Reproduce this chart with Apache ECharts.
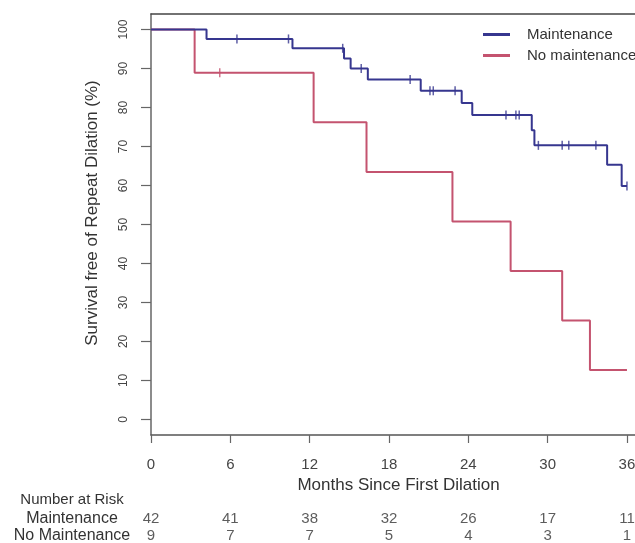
<!DOCTYPE html>
<html>
<head>
<meta charset="utf-8">
<script src="https://cdn.jsdelivr.net/npm/echarts@6/dist/echarts.min.js"></script>
<style>
html,body{margin:0;padding:0;background:#fff;}
#c{width:635px;height:543px;}
</style>
</head>
<body>
<div id="c"></div>
<script>
// ---- data ----
const xTicks = [0, 6, 12, 18, 24, 30, 36];
const yTicks = [0, 10, 20, 30, 40, 50, 60, 70, 80, 90, 100];

const maintTimes = [0, 4.2, 10.7, 14.6, 15.1, 16.4, 20.4, 23.5, 24.3, 28.8, 29.0, 34.5, 35.6, 36.0];
const maintSurv  = [100, 97.6, 95.2, 92.6, 90.0, 87.2, 84.3, 81.2, 78.1, 74.2, 70.3, 65.3, 59.9, 59.9];
const maintCensorTimes = [6.5, 10.4, 14.5, 15.9, 19.6, 21.1, 21.35, 23.0, 26.85, 27.6, 27.85, 29.3, 31.1, 31.6, 33.65, 36.0];
const maintCensorSurv  = [97.6, 97.6, 95.2, 90.0, 87.2, 84.3, 84.3, 84.3, 78.1, 78.1, 78.1, 70.3, 70.3, 70.3, 70.3, 59.9];

const noMaintTimes = [0, 3.3, 12.3, 16.3, 22.8, 27.2, 31.1, 33.2, 36.0];
const noMaintSurv  = [100, 88.9, 76.2, 63.5, 50.8, 38.1, 25.4, 12.7, 12.7];
const noMaintCensorTimes = [5.2];
const noMaintCensorSurv  = [88.9];

const riskTimes   = [0, 6, 12, 18, 24, 30, 36];
const riskMaint   = [42, 41, 38, 32, 26, 17, 11];
const riskNoMaint = [9, 7, 7, 5, 4, 3, 1];
const riskRows = ['Maintenance', 'No Maintenance'];

// ---- chart ----
const BLUE = '#36368f';
const RED = '#c4536f';
const FONT = "'Liberation Sans', Arial, sans-serif";
const XMAX = 37.44;

const zip = (a, b) => a.map((v, i) => [v, b[i]]);

const chart = echarts.init(document.getElementById('c'), null, {renderer: 'canvas'});
chart.setOption({
  animation: false,
  backgroundColor: '#fff',
  textStyle: {fontFamily: FONT},
  grid: [
    {left: 151, top: 14, width: 495, height: 421, show: false, outerBoundsMode: 'none', containLabel: false},
    {left: 151, top: 510, width: 495, height: 34, show: false, outerBoundsMode: 'none', containLabel: false}
  ],
  legend: {
    orient: 'vertical', left: 478, top: 22,
    itemWidth: 27, itemHeight: 3, itemGap: 6,
    textStyle: {fontSize: 15, color: '#333', fontFamily: FONT, lineHeight: 15, padding: [0, 0, 0, 12]},
    data: [{name: 'Maintenance', icon: 'rect'}, {name: 'No maintenance', icon: 'rect'}]
  },
  xAxis: [
    {
      type: 'value', gridIndex: 0, min: 0, max: XMAX,
      axisLine: {show: true, onZero: false, lineStyle: {color: '#555', width: 1.5}},
      axisTick: {show: true, inside: false, length: 8, customValues: xTicks, lineStyle: {color: '#666', width: 1.2}},
      axisLabel: {customValues: xTicks, margin: 22, fontSize: 15, color: '#444', fontFamily: FONT},
      splitLine: {show: false},
      name: 'Months Since First Dilation', nameLocation: 'middle', nameGap: 42,
      nameTextStyle: {fontSize: 17, color: '#333', fontFamily: FONT}
    },
    {type: 'value', gridIndex: 1, min: 0, max: XMAX, show: false},
    {
      type: 'value', gridIndex: 0, position: 'top', min: 0, max: XMAX,
      axisLine: {show: true, onZero: false, lineStyle: {color: '#444', width: 1.5}},
      axisTick: {show: false}, axisLabel: {show: false}, splitLine: {show: false}
    }
  ],
  yAxis: [
    {
      type: 'value', gridIndex: 0, min: -4, max: 104,
      axisLine: {show: true, onZero: false, lineStyle: {color: '#666', width: 1.5}},
      axisTick: {show: true, inside: false, length: 10, customValues: yTicks, lineStyle: {color: '#666', width: 1.2}},
      axisLabel: {customValues: yTicks, rotate: 90, margin: 21, fontSize: 12, color: '#444', fontFamily: FONT},
      splitLine: {show: false}
    },
    {
      type: 'category', gridIndex: 1, data: riskRows, inverse: true,
      axisLine: {show: false}, axisTick: {show: false}, splitLine: {show: false},
      axisLabel: {interval: 0, align: 'center', margin: 79, fontSize: 16, color: '#333', fontFamily: FONT}
    }
  ],
  graphic: [
    {type: 'text', x: 92, y: 213, rotation: Math.PI / 2,
     style: {text: 'Survival free of Repeat Dilation (%)', font: "17px 'Liberation Sans', Arial, sans-serif", fill: '#333', textAlign: 'center', textVerticalAlign: 'middle'}},
    {type: 'text', x: 72, y: 500,
     style: {text: 'Number at Risk', font: "15px 'Liberation Sans', Arial, sans-serif", fill: '#333', textAlign: 'center', textVerticalAlign: 'middle'}}
  ],
  series: [
    {
      name: 'No maintenance', type: 'line', step: 'end', xAxisIndex: 0, yAxisIndex: 0,
      data: zip(noMaintTimes, noMaintSurv), symbol: 'none', color: RED,
      lineStyle: {color: RED, width: 2}, z: 2
    },
    {
      name: 'No maintenance', type: 'scatter', xAxisIndex: 0, yAxisIndex: 0,
      data: zip(noMaintCensorTimes, noMaintCensorSurv), symbol: 'rect', symbolSize: [1.5, 9],
      itemStyle: {color: RED}, z: 2
    },
    {
      name: 'Maintenance', type: 'line', step: 'end', xAxisIndex: 0, yAxisIndex: 0,
      data: zip(maintTimes, maintSurv), symbol: 'none', color: BLUE,
      lineStyle: {color: BLUE, width: 2}, z: 3
    },
    {
      name: 'Maintenance', type: 'scatter', xAxisIndex: 0, yAxisIndex: 0,
      data: zip(maintCensorTimes, maintCensorSurv), symbol: 'rect', symbolSize: [1.5, 9],
      itemStyle: {color: BLUE}, z: 3
    },
    {
      type: 'scatter', xAxisIndex: 1, yAxisIndex: 1, symbolSize: 1,
      itemStyle: {color: 'transparent'},
      data: riskTimes.map((t, i) => [t, riskRows[0], riskMaint[i]]),
      label: {show: true, position: 'inside', formatter: p => String(p.value[2]), fontSize: 15, color: '#333', fontFamily: FONT},
      silent: true
    },
    {
      type: 'scatter', xAxisIndex: 1, yAxisIndex: 1, symbolSize: 1,
      itemStyle: {color: 'transparent'},
      data: riskTimes.map((t, i) => [t, riskRows[1], riskNoMaint[i]]),
      label: {show: true, position: 'inside', formatter: p => String(p.value[2]), fontSize: 15, color: '#333', fontFamily: FONT},
      silent: true
    }
  ]
});
</script>
</body>
</html>
